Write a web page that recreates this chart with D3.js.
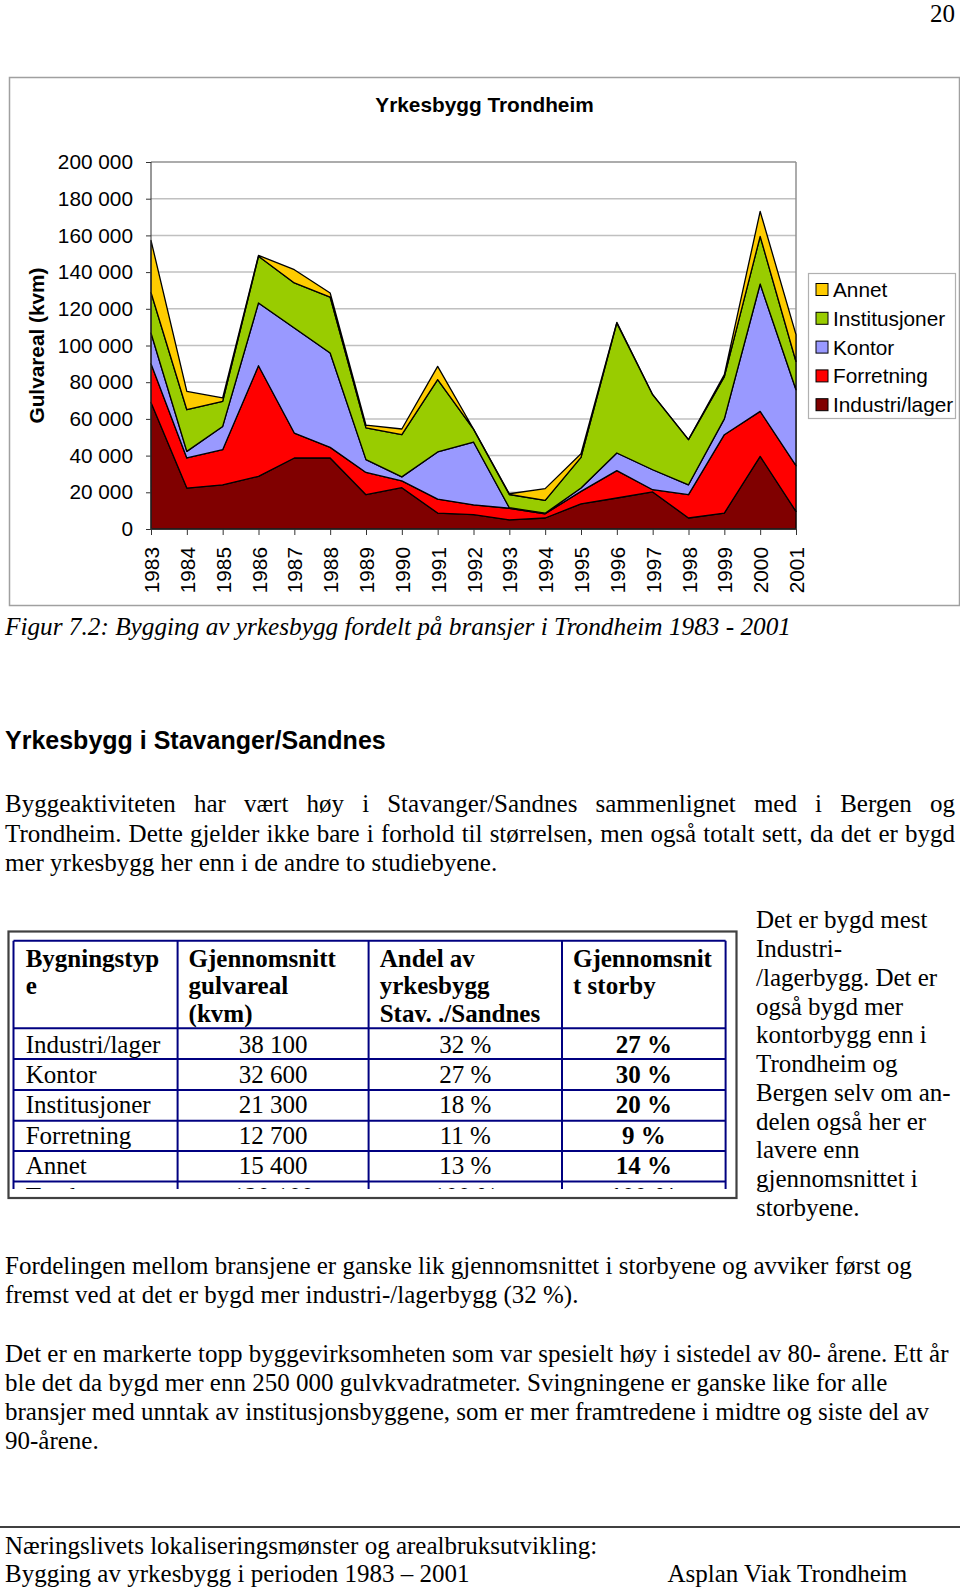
<!DOCTYPE html>
<html><head><meta charset="utf-8">
<script src="https://cdn.jsdelivr.net/npm/d3@7"></script>
<style>body{margin:0;background:#fff} svg{display:block}</style>
</head><body>
<svg id="page" width="960" height="1589"></svg>
<script>
// ---------- chart data ----------
const years = [1983,1984,1985,1986,1987,1988,1989,1990,1991,1992,1993,1994,1995,1996,1997,1998,1999,2000,2001];
const industri      = [69000,22300,24100,28700,38700,38700,18700,22500, 8700, 7800,5000,6000,13700,16900,20200, 6000, 8700,39600, 9600];
const forretning    = [21100,16400,19100,60300,13600, 5800,12100, 3700, 7600, 5400,6300,2300, 6800,14900, 1200,12700,42700,24500,24900];
const kontor        = [16700, 3600,12700,34200,57200,51400, 7000, 2200,25700,34200, 300, 300, 1800, 9600,10900, 5400, 8600,69400,41400];
const institusjoner = [22100,22700,13700,25400,24600,30500,17300,23000,39400, 7000,7200,7000,16700,70900,40900,24600,23000,26000,15400];
const annet         = [28400,10000, 1800,  500, 7200, 2200, 1500, 3100, 7200,  100, 400,6400, 2000,  300,    0,    0, 1100,13600,14600];
const seriesNames = ["Industri/lager","Forretning","Kontor","Institusjoner","Annet"];
const seriesColors = ["#800000","#FF0000","#9999FF","#99CC00","#FFCC00"];
const yTickValues = [0,20000,40000,60000,80000,100000,120000,140000,160000,180000,200000];
const chartTitle = "Yrkesbygg Trondheim";
const yAxisTitle = "Gulvareal (kvm)";

// ---------- table data ----------
const tableHeader = [["Bygningstyp","e"],["Gjennomsnitt","gulvareal","(kvm)"],["Andel av","yrkesbygg","Stav. ./Sandnes"],["Gjennomsnit","t storby"]];
const tableTypes = ["Industri/lager","Kontor","Institusjoner","Forretning","Annet","Total"];
const tableArea  = [38100,32600,21300,12700,15400,120100];
const tableShare = [32,27,18,11,13,100];
const tableCity  = [27,30,20,9,14,100];

// ---------- text ----------
const pageNumber = "20";
const caption = "Figur 7.2: Bygging av yrkesbygg fordelt på bransjer i Trondheim 1983 - 2001";
const heading = "Yrkesbygg i Stavanger/Sandnes";
const para1 = ["Byggeaktiviteten har vært høy i Stavanger/Sandnes sammenlignet med i Bergen og",
               "Trondheim. Dette gjelder ikke bare i forhold til størrelsen, men også totalt sett, da det er bygd",
               "mer yrkesbygg her enn i de andre to studiebyene."];
const sideText = ["Det er bygd mest","Industri-","/lagerbygg. Det er","også bygd mer","kontorbygg enn i","Trondheim og",
                  "Bergen selv om an-","delen også her er","lavere enn","gjennomsnittet i","storbyene."];
const para2 = ["Fordelingen mellom bransjene er ganske lik gjennomsnittet i storbyene og avviker først og",
               "fremst ved at det er bygd mer industri-/lagerbygg (32 %)."];
const para3 = ["Det er en markerte topp byggevirksomheten som var spesielt høy i sistedel av 80- årene. Ett år",
               "ble det da bygd mer enn 250 000 gulvkvadratmeter. Svingningene er ganske like for alle",
               "bransjer med unntak av institusjonsbyggene, som er mer framtredene i midtre og siste del av",
               "90-årene."];
const footer1 = "Næringslivets lokaliseringsmønster og arealbruksutvikling:";
const footer2 = "Bygging av yrkesbygg i perioden 1983 – 2001";
const footer3 = "Asplan Viak Trondheim";

// ---------- drawing ----------
const svg = d3.select("#page");
const SERIF = "'Liberation Serif','Times New Roman',serif";
const SANS = "'Liberation Sans',Arial,sans-serif";
const nf = d3.formatLocale({decimal:",", thousands:" ", grouping:[3], currency:["",""]}).format(",d");

function txt(g, s, x, y, size, opts={}) {
  const t = g.append("text").attr("x", x).attr("y", y).text(s)
    .attr("font-family", opts.family || SERIF).attr("font-size", size).attr("fill", "#000");
  if (opts.weight) t.attr("font-weight", opts.weight);
  if (opts.italic) t.attr("font-style", "italic");
  if (opts.anchor) t.attr("text-anchor", opts.anchor);
  if (opts.width) t.attr("textLength", opts.width).attr("lengthAdjust", "spacingAndGlyphs");
  return t;
}
function justify(g, s, x0, x1, y, size) {
  const words = s.split(" ");
  const ts = words.map(w => txt(g, w, 0, y, size));
  const ws = ts.map(t => t.node().getComputedTextLength());
  const gap = (x1 - x0 - d3.sum(ws)) / (words.length - 1);
  let x = x0;
  ts.forEach((t, i) => { t.attr("x", x); x += ws[i] + gap; });
}

// page number
txt(svg, pageNumber, 955, 22, 25, {anchor: "end"});

// chart frame
svg.append("rect").attr("x", 9.5).attr("y", 77.5).attr("width", 950).attr("height", 528)
  .attr("fill", "#fff").attr("stroke", "#a0a0a0").attr("stroke-width", 1.5);

const x = d3.scaleLinear().domain([years[0], years[years.length-1]]).range([151, 796]);
const y = d3.scaleLinear().domain([0, 200000]).range([529, 162]);
const chart = svg.append("g");

txt(chart, chartTitle, 484.5, 112, 20.8, {family: SANS, weight: "bold", anchor: "middle"});

// gridlines
chart.append("g").selectAll("line").data(yTickValues.filter(d => d > 0)).join("line")
  .attr("x1", x.range()[0]).attr("x2", x.range()[1]).attr("y1", d => y(d)).attr("y2", d => y(d))
  .attr("stroke", d => d === 200000 ? "#909090" : "#c0c0c0").attr("stroke-width", 1.5);
chart.append("line").attr("x1", 796).attr("x2", 796).attr("y1", y(200000)).attr("y2", y(0))
  .attr("stroke", "#909090").attr("stroke-width", 1.5);

// stacked areas
const rows = years.map((yr, i) => ({year: yr, "Industri/lager": industri[i], "Forretning": forretning[i],
  "Kontor": kontor[i], "Institusjoner": institusjoner[i], "Annet": annet[i]}));
const stack = d3.stack().keys(seriesNames)(rows);
const area = d3.area().x(d => x(d.data.year)).y0(d => y(d[0])).y1(d => y(d[1]));
chart.append("g").selectAll("path").data(stack).join("path")
  .attr("d", area).attr("fill", (d, i) => seriesColors[i])
  .attr("stroke", "#000").attr("stroke-width", 1.3).attr("stroke-linejoin", "round");

// axes
const yAxis = d3.axisLeft(y).tickValues(yTickValues).tickFormat(nf).tickSize(5).tickPadding(13);
const gy = chart.append("g").attr("transform", "translate(151,0)").call(yAxis);
gy.selectAll("text").attr("font-family", SANS).attr("font-size", 20.8).attr("fill", "#000");
gy.selectAll("line,path").attr("stroke", "#333");
gy.select(".domain").attr("d", `M0,${y(200000)}V${y(0)}`);

const xAxis = d3.axisBottom(x).tickValues(years).tickFormat(d => String(d)).tickSize(6);
const gx = chart.append("g").attr("transform", "translate(0,529)").call(xAxis);
gx.selectAll("line,path").attr("stroke", "#333");
gx.select(".domain").attr("d", `M151,0H796`);
gx.selectAll("text").attr("font-family", SANS).attr("font-size", 20.8).attr("fill", "#000")
  .attr("text-anchor", "end").attr("transform", "translate(0,18) rotate(-90)")
  .attr("x", 0).attr("y", 0).attr("dy", "0.36em");

// y axis title
chart.append("text").attr("transform", "translate(44,345.5) rotate(-90)").attr("text-anchor", "middle")
  .attr("font-family", SANS).attr("font-size", 20.8).attr("font-weight", "bold").text(yAxisTitle);

// legend
const lg = chart.append("g");
lg.append("rect").attr("x", 808.5).attr("y", 273.5).attr("width", 147).attr("height", 145)
  .attr("fill", "#fff").attr("stroke", "#b0b0b0").attr("stroke-width", 1.2);
const legendItems = seriesNames.map((n, i) => ({name: n, color: seriesColors[i]})).reverse();
legendItems.forEach((d, i) => {
  const cy = 289.5 + i * 28.8;
  lg.append("rect").attr("x", 816).attr("y", cy - 6).attr("width", 12).attr("height", 12)
    .attr("fill", d.color).attr("stroke", "#000").attr("stroke-width", 1);
  txt(lg, d.name, 833, cy + 7.5, 20.8, {family: SANS});
});

// caption
txt(svg, caption, 5, 635, 25, {italic: true, width: 786});

// heading
txt(svg, heading, 5, 749, 25, {family: SANS, weight: "bold"});

// paragraph 1
justify(svg, para1[0], 5, 955, 812, 25);
justify(svg, para1[1], 5, 955, 841.5, 25);
txt(svg, para1[2], 5, 871, 25);

// table
const tg = svg.append("g");
tg.append("rect").attr("x", 8.5).attr("y", 931.5).attr("width", 728).attr("height", 266.5)
  .attr("fill", "none").attr("stroke", "#404040").attr("stroke-width", 2.2);
svg.append("defs").append("clipPath").attr("id", "tclip").append("rect")
  .attr("x", 0).attr("y", 930).attr("width", 740).attr("height", 259);
const ti = tg.append("g").attr("clip-path", "url(#tclip)");
const colX = [13.5, 177.6, 368.6, 562, 725.6];
const rowY = [940.7, 1028.3, 1059, 1090, 1120.7, 1151, 1181.5, 1212];
rowY.forEach(yy => ti.append("line").attr("x1", colX[0]).attr("x2", colX[4]).attr("y1", yy).attr("y2", yy)
  .attr("stroke", "#000080").attr("stroke-width", 2));
colX.forEach(xx => ti.append("line").attr("x1", xx).attr("x2", xx).attr("y1", rowY[0]).attr("y2", rowY[7])
  .attr("stroke", "#000080").attr("stroke-width", 2));
const headX = [25.7, 188.6, 379.7, 573];
const headBase = [967, 994, 1021.5];
tableHeader.forEach((lines, c) => lines.forEach((s, k) =>
  txt(ti, s, headX[c], headBase[k], 25, {weight: "bold"})));
const colC = [0, (colX[1]+colX[2])/2, (colX[2]+colX[3])/2, (colX[3]+colX[4])/2];
tableTypes.forEach((t, r) => {
  const by = 1052.5 + r * 30.4;
  txt(ti, t, 25.7, by, 25);
  txt(ti, nf(tableArea[r]), colC[1], by, 25, {anchor: "middle"});
  txt(ti, tableShare[r] + " %", colC[2], by, 25, {anchor: "middle"});
  txt(ti, tableCity[r] + " %", colC[3], by, 25, {anchor: "middle", weight: "bold"});
});

// side text
sideText.forEach((s, i) => txt(svg, s, 756, 928.3 + i * 28.75, 25));

// paragraph 2, 3
para2.forEach((s, i) => txt(svg, s, 5, 1273.5 + i * 29.6, 25));
para3.forEach((s, i) => txt(svg, s, 5, 1361.7 + i * 29.1, 25));

// footer
svg.append("line").attr("x1", 0).attr("x2", 960).attr("y1", 1527).attr("y2", 1527)
  .attr("stroke", "#000").attr("stroke-width", 1.5);
txt(svg, footer1, 5, 1553.5, 25);
txt(svg, footer2, 5, 1581.5, 25);
txt(svg, footer3, 667.5, 1581.5, 25);
</script>
</body></html>
